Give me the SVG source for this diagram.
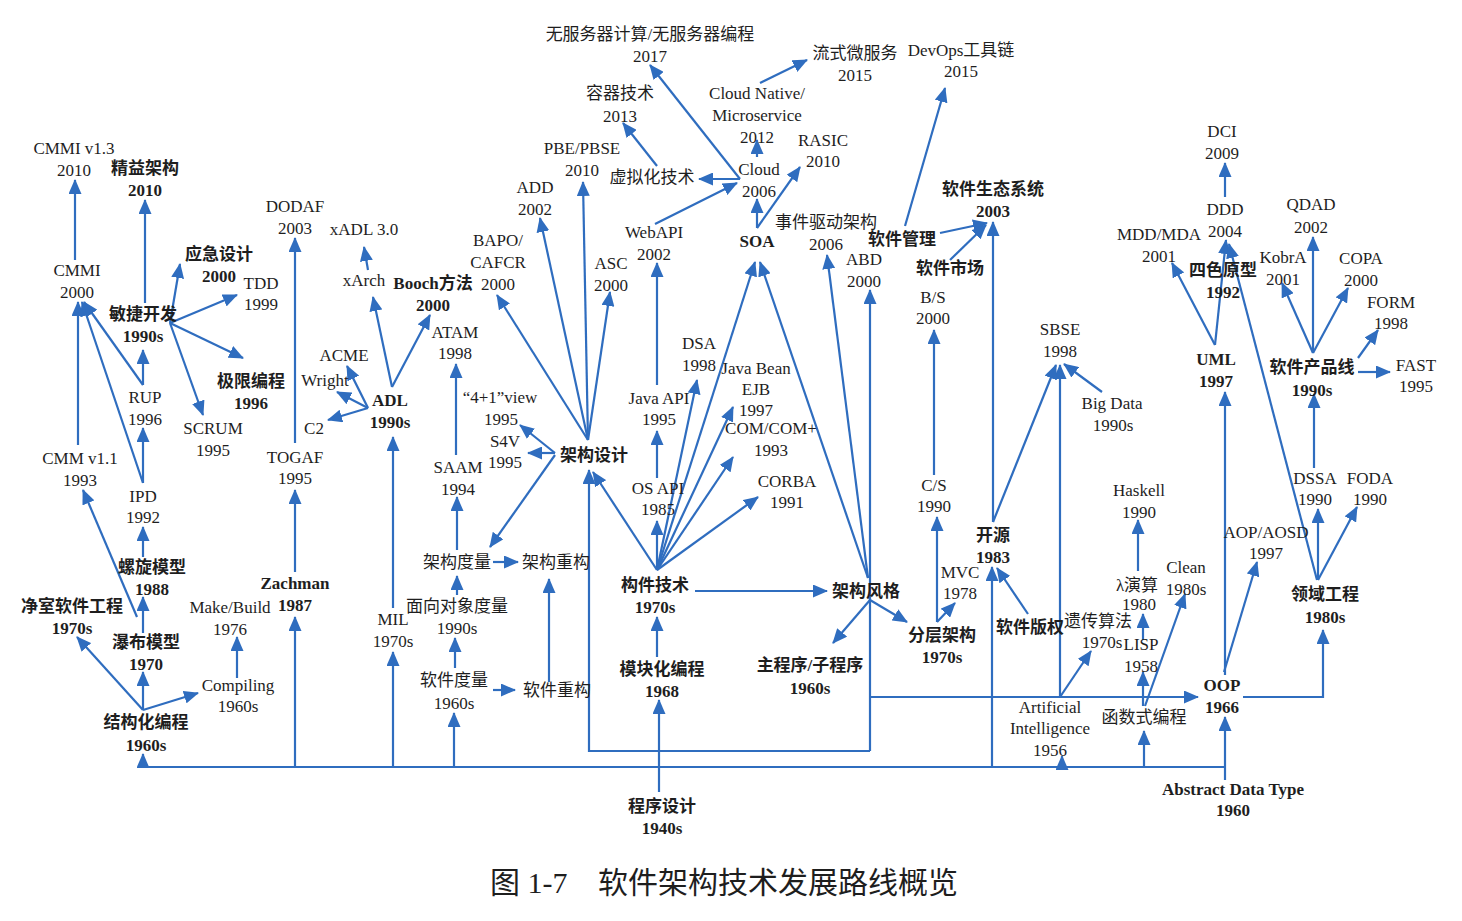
<svg xmlns="http://www.w3.org/2000/svg" width="1462" height="921" viewBox="0 0 1462 921">
<defs>
<marker id="ah" markerUnits="userSpaceOnUse" markerWidth="16" markerHeight="13" refX="14" refY="6.5" orient="auto">
<path d="M0,0 L15,6.5 L0,13 z" fill="#2f6dbf"/>
</marker>
<style>
text{font-family:"Liberation Serif","Noto Sans CJK SC",serif;font-size:17px;fill:#1e1e1e;text-anchor:middle}
.b text,text.b{font-weight:bold}
.c path{fill:none;stroke:#2f6dbf;stroke-width:2.2}
.c path.a{marker-end:url(#ah)}
</style>
</defs>
<rect width="1462" height="921" fill="#fff"/>
<g class="c" id="connectors">
<path d="M1225,767 H143 V754" class="a"/>
<path d="M1225,780 V717" class="a"/>
<path d="M870,751 H589 V470" class="a"/>
<path d="M870,751 V290" class="a"/>
<path d="M870,697 H1198" class="a"/>
<path d="M1243,697 H1323 V630" class="a"/>
<path d="M295,767 V617" class="a"/>
<path d="M393,767 V652" class="a"/>
<path d="M454,767 V713" class="a"/>
<path d="M992,767 V567" class="a"/>
<path d="M1062,767 V756" class="a"/>
<path d="M1144,767 V731" class="a"/>
<path d="M1060,697 V365" class="a"/>
<path d="M1060,697 L1091,651" class="a"/>
<path d="M659,792 V700" class="a"/>
<path d="M657,657 V617" class="a"/>
<path d="M657,570 L593,472" class="a"/>
<path d="M657,570 V521" class="a"/>
<path d="M657,478 V431" class="a"/>
<path d="M657,385 V263" class="a"/>
<path d="M657,570 L697,380" class="a"/>
<path d="M657,570 L733,407" class="a"/>
<path d="M657,570 L733,457" class="a"/>
<path d="M657,570 L758,497" class="a"/>
<path d="M657,570 L755,262" class="a"/>
<path d="M695,591 H827" class="a"/>
<path d="M868,578 L760,262" class="a"/>
<path d="M868,578 L827,255" class="a"/>
<path d="M870,600 L833,643" class="a"/>
<path d="M870,600 L907,622" class="a"/>
<path d="M937,622 V517" class="a"/>
<path d="M937,622 L955,603" class="a"/>
<path d="M934,475 V330" class="a"/>
<path d="M993,522 V222" class="a"/>
<path d="M993,522 L1056,365" class="a"/>
<path d="M1028,614 L997,568" class="a"/>
<path d="M940,233 L987,223" class="a"/>
<path d="M950,260 L986,225" class="a"/>
<path d="M905,226 L945,88" class="a"/>
<path d="M1102,392 L1064,364" class="a"/>
<path d="M757,228 V199" class="a"/>
<path d="M757,228 L800,167" class="a"/>
<path d="M757,157 V140" class="a"/>
<path d="M740,179 H699" class="a"/>
<path d="M740,179 L650,65" class="a"/>
<path d="M655,224 L737,183" class="a"/>
<path d="M657,166 L623,123" class="a"/>
<path d="M760,83 L807,60" class="a"/>
<path d="M588,440 L497,295" class="a"/>
<path d="M588,440 L540,218" class="a"/>
<path d="M588,440 L583,182" class="a"/>
<path d="M588,440 L610,292" class="a"/>
<path d="M555,453 H528" class="a"/>
<path d="M555,453 L520,425" class="a"/>
<path d="M555,455 L490,547" class="a"/>
<path d="M493,562 H518" class="a"/>
<path d="M457,595 V576" class="a"/>
<path d="M457,550 V497" class="a"/>
<path d="M456,455 V364" class="a"/>
<path d="M455,668 V638" class="a"/>
<path d="M493,690 H515" class="a"/>
<path d="M549,682 V579" class="a"/>
<path d="M393,608 V437" class="a"/>
<path d="M392,387 L373,297" class="a"/>
<path d="M368,270 L364,247" class="a"/>
<path d="M392,387 L430,315" class="a"/>
<path d="M368,408 L347,366" class="a"/>
<path d="M368,408 L337,392" class="a"/>
<path d="M368,408 L328,420" class="a"/>
<path d="M295,572 V490" class="a"/>
<path d="M295,443 V238" class="a"/>
<path d="M143,710 L77,637" class="a"/>
<path d="M143,710 V672" class="a"/>
<path d="M143,710 L198,693" class="a"/>
<path d="M237,678 V637" class="a"/>
<path d="M143,633 V597" class="a"/>
<path d="M137,617 L83,490" class="a"/>
<path d="M143,557 V527" class="a"/>
<path d="M143,483 V428" class="a"/>
<path d="M143,483 L82,302" class="a"/>
<path d="M143,385 L84,302" class="a"/>
<path d="M143,385 V350" class="a"/>
<path d="M78,445 V302" class="a"/>
<path d="M75,260 V180" class="a"/>
<path d="M145,303 V200" class="a"/>
<path d="M170,323 L180,264" class="a"/>
<path d="M170,323 L237,295" class="a"/>
<path d="M170,323 L243,358" class="a"/>
<path d="M170,323 L203,415" class="a"/>
<path d="M1215,345 L1172,263" class="a"/>
<path d="M1215,345 L1226,240" class="a"/>
<path d="M1317,580 L1229,244" class="a"/>
<path d="M1225,197 V163" class="a"/>
<path d="M1225,675 V392" class="a"/>
<path d="M1224,672 L1257,562" class="a"/>
<path d="M1318,580 V509" class="a"/>
<path d="M1318,580 L1357,507" class="a"/>
<path d="M1314,468 V394" class="a"/>
<path d="M1313,353 L1282,283" class="a"/>
<path d="M1313,353 V237" class="a"/>
<path d="M1313,353 L1348,288" class="a"/>
<path d="M1358,358 L1378,330" class="a"/>
<path d="M1358,372 H1390" class="a"/>
<path d="M1143,706 V672" class="a"/>
<path d="M1145,706 L1185,594" class="a"/>
<path d="M1143,640 V614" class="a"/>
<path d="M1138,571 V520" class="a"/>
</g>
<g id="nodes">
<g id="n-cmmi13"><text x="74" y="154">CMMI v1.3</text><text x="74" y="176">2010</text></g>
<g id="n-lean" class="b"><text x="145" y="174">精益架构</text><text x="145" y="196">2010</text></g>
<g id="n-cmmi"><text x="77" y="276">CMMI</text><text x="77" y="298">2000</text></g>
<g id="n-agile" class="b"><text x="143" y="320">敏捷开发</text><text x="143" y="342">1990s</text></g>
<g id="n-emerg" class="b"><text x="219" y="260">应急设计</text><text x="219" y="282">2000</text></g>
<g id="n-tdd"><text x="261" y="289">TDD</text><text x="261" y="310">1999</text></g>
<g id="n-xp" class="b"><text x="251" y="387">极限编程</text><text x="251" y="409">1996</text></g>
<g id="n-rup"><text x="145" y="403">RUP</text><text x="145" y="425">1996</text></g>
<g id="n-scrum"><text x="213" y="434">SCRUM</text><text x="213" y="456">1995</text></g>
<g id="n-cmm11"><text x="80" y="464">CMM v1.1</text><text x="80" y="486">1993</text></g>
<g id="n-ipd"><text x="143" y="502">IPD</text><text x="143" y="523">1992</text></g>
<g id="n-spiral" class="b"><text x="152" y="573">螺旋模型</text><text x="152" y="595">1988</text></g>
<g id="n-clean" class="b"><text x="72" y="612">净室软件工程</text><text x="72" y="634">1970s</text></g>
<g id="n-waterfall" class="b"><text x="146" y="648">瀑布模型</text><text x="146" y="670">1970</text></g>
<g id="n-struct" class="b"><text x="146" y="728">结构化编程</text><text x="146" y="751">1960s</text></g>
<g id="n-compiling"><text x="238" y="691">Compiling</text><text x="238" y="712">1960s</text></g>
<g id="n-make"><text x="230" y="613">Make/Build</text><text x="230" y="635">1976</text></g>
<g id="n-zachman" class="b"><text x="295" y="589">Zachman</text><text x="295" y="611">1987</text></g>
<g id="n-dodaf"><text x="295" y="212">DODAF</text><text x="295" y="234">2003</text></g>
<g id="n-togaf"><text x="295" y="463">TOGAF</text><text x="295" y="484">1995</text></g>
<g id="n-xadl"><text x="364" y="235">xADL 3.0</text></g>
<g id="n-xarch"><text x="364" y="286">xArch</text></g>
<g id="n-booch" class="b"><text x="433" y="289">Booch方法</text><text x="433" y="311">2000</text></g>
<g id="n-acme"><text x="344" y="361">ACME</text></g>
<g id="n-wright"><text x="325" y="386">Wright</text></g>
<g id="n-c2"><text x="314" y="434">C2</text></g>
<g id="n-adl" class="b"><text x="390" y="406">ADL</text><text x="390" y="428">1990s</text></g>
<g id="n-atam"><text x="455" y="338">ATAM</text><text x="455" y="359">1998</text></g>
<g id="n-41"><text x="500" y="403">“4+1”view</text><text x="501" y="425">1995</text></g>
<g id="n-s4v"><text x="505" y="447">S4V</text><text x="505" y="468">1995</text></g>
<g id="n-saam"><text x="458" y="473">SAAM</text><text x="458" y="495">1994</text></g>
<g id="n-archdesign" class="b"><text x="594" y="461">架构设计</text></g>
<g id="n-archmetric"><text x="457" y="568">架构度量</text></g>
<g id="n-archrefactor"><text x="556" y="568">架构重构</text></g>
<g id="n-oometric"><text x="457" y="612">面向对象度量</text><text x="457" y="634">1990s</text></g>
<g id="n-mil"><text x="393" y="625">MIL</text><text x="393" y="647">1970s</text></g>
<g id="n-swmetric"><text x="454" y="686">软件度量</text><text x="454" y="709">1960s</text></g>
<g id="n-swrefactor"><text x="557" y="696">软件重构</text></g>
<g id="n-add"><text x="535" y="193">ADD</text><text x="535" y="215">2002</text></g>
<g id="n-bapo"><text x="498" y="246">BAPO/</text><text x="498" y="268">CAFCR</text><text x="498" y="290">2000</text></g>
<g id="n-pbe"><text x="582" y="154">PBE/PBSE</text><text x="582" y="176">2010</text></g>
<g id="n-asc"><text x="611" y="269">ASC</text><text x="611" y="291">2000</text></g>
<g id="n-webapi"><text x="654" y="238">WebAPI</text><text x="654" y="260">2002</text></g>
<g id="n-virt"><text x="652" y="183">虚拟化技术</text></g>
<g id="n-container"><text x="620" y="99">容器技术</text><text x="620" y="122">2013</text></g>
<g id="n-serverless"><text x="650" y="40">无服务器计算/无服务器编程</text><text x="650" y="62">2017</text></g>
<g id="n-cloudnative"><text x="757" y="99">Cloud Native/</text><text x="757" y="121">Microservice</text><text x="757" y="143">2012</text></g>
<g id="n-cloud"><text x="759" y="175">Cloud</text><text x="759" y="197">2006</text></g>
<g id="n-rasic"><text x="823" y="146">RASIC</text><text x="823" y="167">2010</text></g>
<g id="n-stream"><text x="855" y="59">流式微服务</text><text x="855" y="81">2015</text></g>
<g id="n-devops"><text x="961" y="56">DevOps工具链</text><text x="961" y="77">2015</text></g>
<g id="n-soa" class="b"><text x="757" y="247">SOA</text></g>
<g id="n-eda"><text x="826" y="228">事件驱动架构</text><text x="826" y="250">2006</text></g>
<g id="n-abd"><text x="864" y="265">ABD</text><text x="864" y="287">2000</text></g>
<g id="n-eco" class="b"><text x="993" y="195">软件生态系统</text><text x="993" y="217">2003</text></g>
<g id="n-swmgmt" class="b"><text x="902" y="245">软件管理</text></g>
<g id="n-swmarket" class="b"><text x="950" y="274">软件市场</text></g>
<g id="n-bs"><text x="933" y="303">B/S</text><text x="933" y="324">2000</text></g>
<g id="n-dsa"><text x="699" y="349">DSA</text><text x="699" y="371">1998</text></g>
<g id="n-ejb"><text x="756" y="374">Java Bean</text><text x="756" y="395">EJB</text><text x="756" y="416">1997</text></g>
<g id="n-javaapi"><text x="659" y="404">Java API</text><text x="659" y="425">1995</text></g>
<g id="n-com"><text x="771" y="434">COM/COM+</text><text x="771" y="456">1993</text></g>
<g id="n-corba"><text x="787" y="487">CORBA</text><text x="787" y="508">1991</text></g>
<g id="n-osapi"><text x="658" y="494">OS API</text><text x="658" y="515">1985</text></g>
<g id="n-component" class="b"><text x="655" y="591">构件技术</text><text x="655" y="613">1970s</text></g>
<g id="n-style" class="b"><text x="866" y="597">架构风格</text></g>
<g id="n-modular" class="b"><text x="662" y="675">模块化编程</text><text x="662" y="697">1968</text></g>
<g id="n-program" class="b"><text x="662" y="812">程序设计</text><text x="662" y="834">1940s</text></g>
<g id="n-mainsub" class="b"><text x="810" y="671">主程序/子程序</text><text x="810" y="694">1960s</text></g>
<g id="n-layered" class="b"><text x="942" y="641">分层架构</text><text x="942" y="663">1970s</text></g>
<g id="n-mvc"><text x="960" y="578">MVC</text><text x="960" y="599">1978</text></g>
<g id="n-cs"><text x="934" y="491">C/S</text><text x="934" y="512">1990</text></g>
<g id="n-oss" class="b"><text x="993" y="541">开源</text><text x="993" y="563">1983</text></g>
<g id="n-sbse"><text x="1060" y="335">SBSE</text><text x="1060" y="357">1998</text></g>
<g id="n-bigdata"><text x="1112" y="409">Big Data</text><text x="1113" y="431">1990s</text></g>
<g id="n-copyright" class="b"><text x="1030" y="633">软件版权</text></g>
<g id="n-ga"><text x="1098" y="627">遗传算法</text><text x="1102" y="648">1970s</text></g>
<g id="n-lisp"><text x="1141" y="650">LISP</text><text x="1141" y="672">1958</text></g>
<g id="n-lambda"><text x="1137" y="591">λ演算</text><text x="1139" y="610">1980</text></g>
<g id="n-haskell"><text x="1139" y="496">Haskell</text><text x="1139" y="518">1990</text></g>
<g id="n-cleanlang"><text x="1186" y="573">Clean</text><text x="1186" y="595">1980s</text></g>
<g id="n-ai"><text x="1050" y="713">Artificial</text><text x="1050" y="734">Intelligence</text><text x="1050" y="756">1956</text></g>
<g id="n-fp"><text x="1144" y="723">函数式编程</text></g>
<g id="n-oop" class="b"><text x="1222" y="691">OOP</text><text x="1222" y="713">1966</text></g>
<g id="n-adt" class="b"><text x="1233" y="795">Abstract Data Type</text><text x="1233" y="816">1960</text></g>
<g id="n-aop"><text x="1266" y="538">AOP/AOSD</text><text x="1266" y="559">1997</text></g>
<g id="n-domain" class="b"><text x="1325" y="600">领域工程</text><text x="1325" y="623">1980s</text></g>
<g id="n-dssa"><text x="1315" y="484">DSSA</text><text x="1315" y="505">1990</text></g>
<g id="n-foda"><text x="1370" y="484">FODA</text><text x="1370" y="505">1990</text></g>
<g id="n-spl" class="b"><text x="1312" y="373">软件产品线</text><text x="1312" y="396">1990s</text></g>
<g id="n-fast"><text x="1416" y="371">FAST</text><text x="1416" y="392">1995</text></g>
<g id="n-form"><text x="1391" y="308">FORM</text><text x="1391" y="329">1998</text></g>
<g id="n-copa"><text x="1361" y="264">COPA</text><text x="1361" y="286">2000</text></g>
<g id="n-kobra"><text x="1283" y="263">KobrA</text><text x="1283" y="285">2001</text></g>
<g id="n-qdad"><text x="1311" y="210">QDAD</text><text x="1311" y="233">2002</text></g>
<g id="n-uml" class="b"><text x="1216" y="365">UML</text><text x="1216" y="387">1997</text></g>
<g id="n-fourcolor" class="b"><text x="1223" y="276">四色原型</text><text x="1223" y="298">1992</text></g>
<g id="n-mdd"><text x="1159" y="240">MDD/MDA</text><text x="1159" y="262">2001</text></g>
<g id="n-ddd"><text x="1225" y="215">DDD</text><text x="1225" y="237">2004</text></g>
<g id="n-dci"><text x="1222" y="137">DCI</text><text x="1222" y="159">2009</text></g>
</g>
<g id="caption"><text x="490" y="893" style="font-size:30px;text-anchor:start">图 1-7<tspan x="598">软件架构技术发展路线概览</tspan></text></g>
</svg>
